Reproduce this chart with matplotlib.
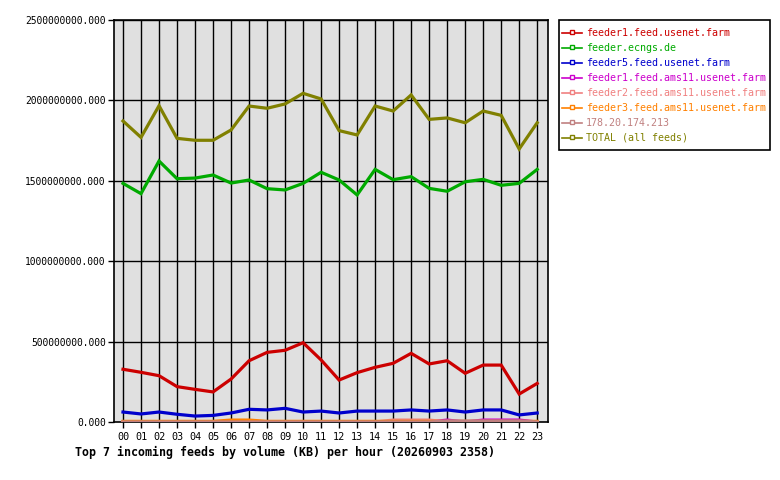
import numpy as np
import matplotlib.pyplot as plt
from matplotlib.lines import Line2D
from matplotlib.patches import Rectangle

hours = [f"{h:02d}" for h in range(24)]

feeder1_usenet = [3.28e8, 3.09e8, 2.88e8, 2.20e8, 2.03e8, 1.87e8, 2.67e8, 3.81e8,
                  4.33e8, 4.46e8, 4.93e8, 3.86e8, 2.61e8, 3.07e8, 3.40e8, 3.65e8,
                  4.27e8, 3.61e8, 3.81e8, 3.03e8, 3.54e8, 3.54e8, 1.74e8, 2.40e8]
feeder_ecngs = [1.484e9, 1.420e9, 1.623e9, 1.513e9, 1.517e9, 1.536e9, 1.486e9, 1.505e9,
                1.451e9, 1.443e9, 1.484e9, 1.553e9, 1.505e9, 1.412e9, 1.571e9, 1.507e9,
                1.526e9, 1.453e9, 1.435e9, 1.494e9, 1.509e9, 1.472e9, 1.484e9, 1.571e9]
feeder5_usenet = [6.2e7, 5.0e7, 6.2e7, 4.8e7, 3.7e7, 4.1e7, 5.6e7, 7.9e7,
                  7.5e7, 8.5e7, 6.2e7, 6.8e7, 5.6e7, 6.8e7, 6.8e7, 6.8e7,
                  7.5e7, 6.8e7, 7.5e7, 6.2e7, 7.5e7, 7.5e7, 4.4e7, 5.6e7]
feeder1_ams11 = [0, 0, 0, 0, 0, 0, 0, 0, 0, 0, 0, 0,
                 0, 0, 0, 0, 0, 0, 1.2e7, 0, 1.2e7, 1.2e7, 1.2e7, 0]
feeder2_ams11 = [0, 0, 0, 0, 0, 0, 0, 0, 0, 0, 0, 0,
                 0, 0, 0, 1.2e7, 1.2e7, 1.2e7, 0, 0, 0, 0, 0, 0]
feeder3_ams11 = [4e6, 4e6, 4e6, 4e6, 4e6, 4e6, 1.2e7, 1.2e7, 4e6, 4e6, 4e6, 4e6,
                 4e6, 4e6, 4e6, 4e6, 4e6, 4e6, 4e6, 4e6, 4e6, 4e6, 4e6, 4e6]
ip_feed = [0, 0, 0, 0, 0, 0, 0, 0, 0, 0, 0, 0,
           0, 0, 0, 0, 0, 0, 6e6, 6e6, 6e6, 6e6, 6e6, 0]
total = [1.872e9, 1.770e9, 1.967e9, 1.764e9, 1.752e9, 1.752e9, 1.816e9, 1.965e9,
         1.951e9, 1.978e9, 2.044e9, 2.009e9, 1.812e9, 1.785e9, 1.965e9, 1.934e9,
         2.034e9, 1.882e9, 1.891e9, 1.861e9, 1.934e9, 1.907e9, 1.698e9, 1.861e9]

labels = ["feeder1.feed.usenet.farm", "feeder.ecngs.de", "feeder5.feed.usenet.farm",
          "feeder1.feed.ams11.usenet.farm", "feeder2.feed.ams11.usenet.farm",
          "feeder3.feed.ams11.usenet.farm", "178.20.174.213", "TOTAL (all feeds)"]
series = [feeder1_usenet, feeder_ecngs, feeder5_usenet, feeder1_ams11,
          feeder2_ams11, feeder3_ams11, ip_feed, total]
colors = ["#cc0000", "#00aa00", "#0000cc", "#cc00cc", "#f08080", "#ff8000",
          "#c08080", "#808000"]

title = "Top 7 incoming feeds by volume (KB) per hour (20260903 2358)"
yticks = np.arange(0, 2.5e9 + 1, 5e8)

mono = "DejaVu Sans Mono"
W, H = 780, 480
fig = plt.figure(figsize=(7.8, 4.8), dpi=100)
ax = fig.add_axes([114 / W, 1 - 422 / H, 434 / W, 402 / H])
ax.set_facecolor("#e0e0e0")

x = np.arange(len(hours))
for vals, c in zip(series, colors):
    ax.plot(x, vals, color=c, lw=2.3, solid_joinstyle="miter", zorder=3)

ax.set_xlim(-0.5, 23.6)
ax.set_ylim(0, 2.5e9)
ax.set_xticks(x)
ax.set_xticklabels(hours, family=mono, fontsize=7.3)
ax.set_yticks(yticks)
ax.set_yticklabels([f"{v:.3f}" for v in yticks], family=mono, fontsize=6.9)
ax.tick_params(axis="both", direction="out", length=4, width=1, color="black")
ax.tick_params(axis="x", pad=3)
ax.tick_params(axis="y", pad=2)
for xv in x:
    ax.axvline(xv, color="black", lw=1, zorder=1)
for yv in yticks[1:]:
    ax.axhline(yv, color="black", lw=1, zorder=1)
for s in ax.spines.values():
    s.set_linewidth(1.2)

fig.text(75 / W, 1 - 452 / H, title, family=mono, fontsize=8.4,
         fontweight="bold", va="center", ha="left")

# legend box drawn by hand to sit like the original
fig.patches.append(Rectangle((559 / W, 1 - 150 / H), 211 / W, 130 / H,
                             transform=fig.transFigure, facecolor="white",
                             edgecolor="black", lw=1.2))
for i, (lab, c) in enumerate(zip(labels, colors)):
    yy = 1 - (33 + 15 * i) / H
    fig.lines.append(Line2D([562 / W, 582 / W], [yy, yy], transform=fig.transFigure,
                            color=c, lw=1.2))
    fig.lines.append(Line2D([572 / W], [yy + 1 / H], transform=fig.transFigure,
                            color=c, marker="s", ms=3, mfc="white", mew=1))
    fig.text(586 / W, yy, lab, color=c, family=mono, fontsize=7.2,
             va="center", ha="left")

fig.savefig("out.png", dpi=100)
